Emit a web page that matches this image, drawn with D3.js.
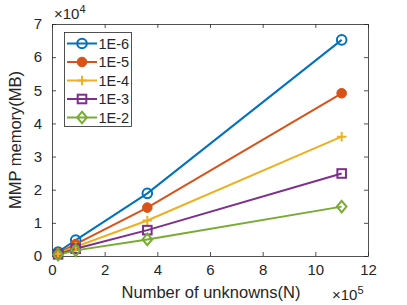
<!DOCTYPE html>
<html>
<head>
<meta charset="utf-8">
<style>
  body { margin: 0; background: #fff; }
  svg text { font-family: "Liberation Sans", Arial, sans-serif; fill: #262626; }
</style>
</head>
<body>
<svg width="407" height="305"></svg>
<script src="https://d3js.org/d3.v7.min.js"></script>
<script>
// data (x in 1e5 units, y in 1e4 MB)
var nValues = [0.23, 0.9, 3.62, 11];
var tol6 = [0.12, 0.48, 1.89, 6.52];
var tol5 = [0.09, 0.36, 1.46, 4.91];
var tol4 = [0.07, 0.28, 1.07, 3.6];
var tol3 = [0.05, 0.22, 0.78, 2.49];
var tol2 = [0.04, 0.17, 0.5, 1.49];
var seriesNames = ["1E-6", "1E-5", "1E-4", "1E-3", "1E-2"];
var xTicks = [0, 2, 4, 6, 8, 10, 12];
var yTicks = [0, 1, 2, 3, 4, 5, 6, 7];

var colors = ["#0072BD", "#D95319", "#EDB120", "#7E2F8E", "#77AC30"];
var markers = ["circle", "dot", "plus", "square", "diamond"];
var allSeries = [tol6, tol5, tol4, tol3, tol2];

var svg = d3.select("svg");
var margin = {top: 24, right: 39, bottom: 49, left: 52};
var width = 407 - margin.left - margin.right;
var height = 305 - margin.top - margin.bottom;

var x = d3.scaleLinear().domain([0, 12]).range([margin.left, margin.left + width]);
var y = d3.scaleLinear().domain([0, 7]).range([margin.top + height, margin.top]);

var axisColor = "#262626";

// axes
function styleAxis(g) {
  g.select(".domain").attr("stroke", axisColor).attr("stroke-width", 0.8);
  g.selectAll(".tick line").attr("stroke", axisColor).attr("stroke-width", 0.8);
  g.selectAll(".tick text").style("font-size", "15px").attr("fill", axisColor);
}

svg.append("g")
  .attr("transform", "translate(0," + (margin.top + height) + ")")
  .call(d3.axisBottom(x).tickValues(xTicks).tickFormat(d3.format("d")).tickSize(-4).tickPadding(8).tickSizeOuter(0))
  .call(styleAxis);
svg.append("g")
  .attr("transform", "translate(0," + margin.top + ")")
  .call(d3.axisTop(x).tickValues(xTicks).tickSize(-4).tickFormat("").tickSizeOuter(0))
  .call(styleAxis);
svg.append("g")
  .attr("transform", "translate(" + margin.left + ",0)")
  .call(d3.axisLeft(y).tickValues(yTicks).tickFormat(d3.format("d")).tickSize(-4).tickPadding(10).tickSizeOuter(0))
  .call(styleAxis);
svg.append("g")
  .attr("transform", "translate(" + (margin.left + width) + ",0)")
  .call(d3.axisRight(y).tickValues(yTicks).tickSize(-4).tickFormat("").tickSizeOuter(0))
  .call(styleAxis);

// exponent labels
var e4 = svg.append("text").attr("x", margin.left + 2).attr("y", 19).style("font-size", "15px");
e4.append("tspan").text("\u00d710");
e4.append("tspan").attr("dy", -6).style("font-size", "11px").text("4");
var e5 = svg.append("text").attr("x", 332).attr("y", 300).style("font-size", "15px");
e5.append("tspan").text("\u00d710");
e5.append("tspan").attr("dy", -6).style("font-size", "11px").text("5");

// axis titles
svg.append("text")
  .attr("x", margin.left + width / 2 + 1)
  .attr("y", 298)
  .attr("text-anchor", "middle")
  .style("font-size", "16.5px")
  .text("Number of unknowns(N)");
svg.append("text")
  .attr("transform", "translate(21," + (margin.top + height / 2) + ") rotate(-90)")
  .attr("text-anchor", "middle")
  .style("font-size", "16.5px")
  .text("MMP memory(MB)");

function drawMarker(g, type, color, cx, cy) {
  var s = 4.8;
  if (type === "circle") {
    g.append("circle").attr("cx", cx).attr("cy", cy).attr("r", s)
      .attr("fill", "none").attr("stroke", color).attr("stroke-width", 2);
  } else if (type === "dot") {
    g.append("circle").attr("cx", cx).attr("cy", cy).attr("r", s)
      .attr("fill", color).attr("stroke", color).attr("stroke-width", 1);
  } else if (type === "plus") {
    g.append("path").attr("d", "M" + (cx - s) + "," + cy + "H" + (cx + s) + "M" + cx + "," + (cy - s) + "V" + (cy + s))
      .attr("stroke", color).attr("stroke-width", 2).attr("fill", "none");
  } else if (type === "square") {
    g.append("rect").attr("x", cx - s + 0.5).attr("y", cy - s + 0.5).attr("width", 2 * s - 1).attr("height", 2 * s - 1)
      .attr("fill", "none").attr("stroke", color).attr("stroke-width", 2);
  } else if (type === "diamond") {
    var d = s + 1;
    g.append("path").attr("d", "M" + cx + "," + (cy - d) + "L" + (cx + d - 1) + "," + cy + "L" + cx + "," + (cy + d) + "L" + (cx - d + 1) + "," + cy + "Z")
      .attr("fill", "none").attr("stroke", color).attr("stroke-width", 2);
  }
}

var line = d3.line()
  .x(function(d, i) { return x(nValues[i]); })
  .y(function(d) { return y(d); });

var plot = svg.append("g");
allSeries.forEach(function(vals, k) {
  plot.append("path")
    .datum(vals)
    .attr("d", line)
    .attr("fill", "none")
    .attr("stroke", colors[k])
    .attr("stroke-width", 2);
});
allSeries.forEach(function(vals, k) {
  vals.forEach(function(v, i) {
    drawMarker(plot, markers[k], colors[k], x(nValues[i]), y(v));
  });
});

// legend
var lg = svg.append("g");
lg.append("rect").attr("x", 64.5).attr("y", 32.5).attr("width", 67).attr("height", 94)
  .attr("fill", "#fff").attr("stroke", axisColor).attr("stroke-width", 0.8);
seriesNames.forEach(function(name, k) {
  var ly = 43.5 + k * 18.5;
  lg.append("line").attr("x1", 67).attr("x2", 97).attr("y1", ly).attr("y2", ly)
    .attr("stroke", colors[k]).attr("stroke-width", 2);
  drawMarker(lg, markers[k], colors[k], 82, ly);
  lg.append("text").attr("x", 98.5).attr("y", ly + 5.2).style("font-size", "14.5px").text(name);
});
</script>
</body>
</html>
